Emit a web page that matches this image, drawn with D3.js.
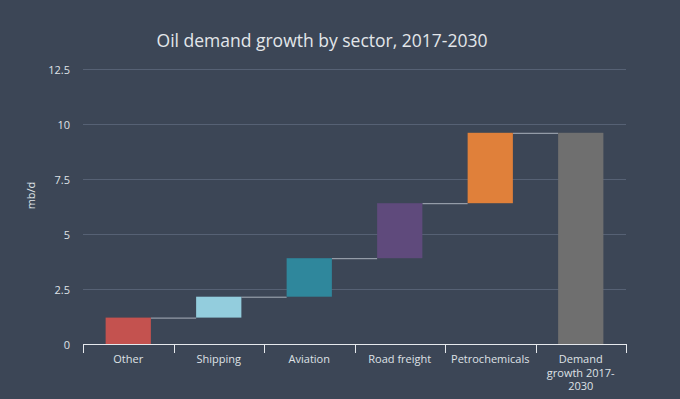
<!DOCTYPE html>
<html>
<head>
<meta charset="utf-8">
<script src="https://cdn.jsdelivr.net/npm/d3@7"></script>
<style>
  body { margin: 0; background: #3c4656; }
  svg { display: block; font-family: "Open Sans", sans-serif; }
</style>
</head>
<body>
<div id="chart"></div>
<script>
// data
const categories = ["Other", "Shipping", "Aviation", "Road freight", "Petrochemicals", "Demand growth 2017-2030"];
const increments = [1.2, 0.95, 1.75, 2.5, 3.2];
const colors = ["#c4524f", "#93cddd", "#2f879c", "#5f4a7c", "#e0803a", "#6f6f6f"];
const yTicks = [0, 2.5, 5, 7.5, 10, 12.5];

// build waterfall steps
let running = 0;
const steps = increments.map((v, i) => {
    const s = { cat: categories[i], start: running, end: running + v, color: colors[i] };
    running += v;
    return s;
});
steps.push({ cat: categories[5], start: 0, end: running, color: colors[5] });

const W = 680, H = 399;
const margin = { top: 69, right: 54, bottom: 55, left: 83 };
const width = W - margin.left - margin.right,
      height = H - margin.top - margin.bottom;

const svg = d3.select("#chart").append("svg")
    .attr("width", W).attr("height", H);

svg.append("rect").attr("width", W).attr("height", H).attr("fill", "#3c4656");

// title
svg.append("text")
    .attr("x", 322).attr("y", 47)
    .attr("text-anchor", "middle")
    .attr("fill", "#e3e6ea")
    .style("font-size", "17.5px")
    .text("Oil demand growth by sector, 2017-2030");

const g = svg.append("g").attr("transform", `translate(${margin.left},${margin.top})`);

const x = d3.scaleBand().domain(categories).range([0, width]).paddingInner(0.5).paddingOuter(0.25);
const xb = d3.scaleBand().domain(categories).range([0, width]);
const y = d3.scaleLinear().domain([0, 12.5]).range([height, 0]);

// gridlines
g.selectAll(".grid").data(yTicks.filter(d => d > 0)).enter().append("line")
    .attr("x1", 0).attr("x2", width)
    .attr("y1", d => y(d) + 0.5).attr("y2", d => y(d) + 0.5)
    .attr("stroke", "#566174").attr("stroke-width", 1);

// y tick labels
g.selectAll(".ytick").data(yTicks).enter().append("text")
    .attr("x", -13).attr("y", d => y(d) + 4.5)
    .attr("text-anchor", "end")
    .attr("fill", "#dfe2e6")
    .style("font-size", "11px")
    .text(d => d);

// y label
g.append("text")
    .attr("transform", `translate(-48,${height / 2 - 11}) rotate(-90)`)
    .attr("text-anchor", "middle")
    .attr("fill", "#dfe2e6")
    .style("font-size", "11px")
    .text("mb/d");

// connectors
g.selectAll(".conn").data(steps.slice(0, -1)).enter().append("line")
    .attr("x1", d => x(d.cat) + x.bandwidth())
    .attr("x2", (d, i) => x(steps[i + 1].cat))
    .attr("y1", d => y(d.end) + 0.5).attr("y2", d => y(d.end) + 0.5)
    .attr("stroke", "#a9b1bc").attr("stroke-width", 1);

// bars
g.selectAll(".bar").data(steps).enter().append("rect")
    .attr("x", d => x(d.cat))
    .attr("y", d => y(Math.max(d.start, d.end)))
    .attr("width", x.bandwidth())
    .attr("height", d => Math.abs(y(d.start) - y(d.end)))
    .attr("fill", d => d.color);

// x axis
const axis = g.append("g").attr("transform", `translate(0,${height})`);
axis.append("line").attr("x1", 0).attr("x2", width).attr("y1", 0.5).attr("y2", 0.5)
    .attr("stroke", "#e6e9ed").attr("stroke-width", 1);
const bounds = categories.map(c => xb(c)).concat([width]);
axis.selectAll(".tick").data(bounds).enter().append("line")
    .attr("x1", d => Math.round(d) + 0.5).attr("x2", d => Math.round(d) + 0.5)
    .attr("y1", 0).attr("y2", 9)
    .attr("stroke", "#e6e9ed").attr("stroke-width", 1);

// category labels (wrap long ones)
const labelLines = {
    "Demand growth 2017-2030": ["Demand", "growth 2017-", "2030"]
};
categories.forEach(c => {
    const lines = labelLines[c] || [c];
    const t = axis.append("text")
        .attr("text-anchor", "middle")
        .attr("fill", "#dfe2e6")
        .style("font-size", "11px");
    lines.forEach((l, i) => {
        t.append("tspan")
            .attr("x", xb(c) + xb.bandwidth() / 2)
            .attr("y", 19 + i * 13.5)
            .text(l);
    });
});
</script>
</body>
</html>
